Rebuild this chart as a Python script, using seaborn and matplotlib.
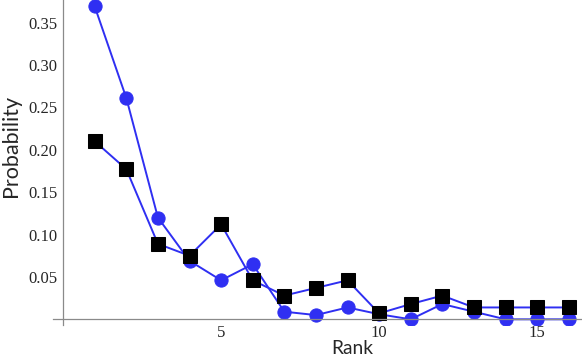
import numpy as np
import pandas as pd
import seaborn as sns
import matplotlib.pyplot as plt

plt.switch_backend("Agg")

# data
rank = list(range(1, 17))
prob_circles = [0.369, 0.261, 0.120, 0.069, 0.046, 0.065, 0.009, 0.005,
                0.014, 0.006, 0.0, 0.018, 0.009, 0.0, 0.0, 0.0]
prob_squares = [0.210, 0.177, 0.089, 0.075, 0.112, 0.046, 0.028, 0.037,
                0.046, 0.007, 0.018, 0.028, 0.014, 0.014, 0.014, 0.014]
xticks = [5, 10, 15]
yticks = [0.05, 0.10, 0.15, 0.20, 0.25, 0.30, 0.35]

df = pd.DataFrame({"rank": rank, "circles": prob_circles, "squares": prob_squares})

sns.set_style("white")
blue = "#2f2ff2"
gray = "#8a8a8a"

fig = plt.figure(figsize=(5.82, 3.61), dpi=100)
ax = fig.add_axes([53 / 582, 36 / 361, 529 / 582, 325 / 361])

sns.lineplot(data=df, x="rank", y="circles", ax=ax, color=blue, lw=1.4,
             marker="o", markersize=9.5, markerfacecolor=blue, markeredgecolor=blue)
sns.lineplot(data=df, x="rank", y="squares", ax=ax, color=blue, lw=1.4,
             marker="s", markersize=9.5, markerfacecolor="black", markeredgecolor="black")

ax.set_xlim(-0.32, 16.42)
ax.set_ylim(-0.0067, 0.3766)

# Mathematica-like axes through the origin
for s in ["top", "right"]:
    ax.spines[s].set_visible(False)
ax.spines["left"].set_position(("data", 0))
ax.spines["bottom"].set_position(("data", 0))
for s in ["left", "bottom"]:
    ax.spines[s].set_color(gray)
    ax.spines[s].set_linewidth(0.9)

ax.set_xticks(xticks)
ax.set_xticklabels([str(t) for t in xticks])
ax.set_xticks(rank, minor=True)
ax.set_yticks(yticks)
ax.set_yticklabels([f"{t:.2f}" for t in yticks])
ax.set_yticks(np.arange(0.01, 0.37, 0.01), minor=True)

ax.tick_params(axis="both", which="major", direction="in", length=5, width=0.8,
               color=gray, labelsize=12, pad=4)
ax.tick_params(axis="both", which="minor", direction="in", length=3, width=0.7, color=gray)
for lab in ax.get_xticklabels() + ax.get_yticklabels():
    lab.set_fontfamily("Liberation Serif")

ax.set_xlabel("")
ax.set_ylabel("")
fig.text(352 / 582, 1 - 349 / 361, "Rank", ha="center", va="center", fontsize=13.8,
         family="Lato")
fig.text(11 / 582, 1 - 146 / 361, "Probability", ha="center", va="center", rotation=90,
         fontsize=15.5, family="Lato")

fig.savefig("out.png", dpi=100)
